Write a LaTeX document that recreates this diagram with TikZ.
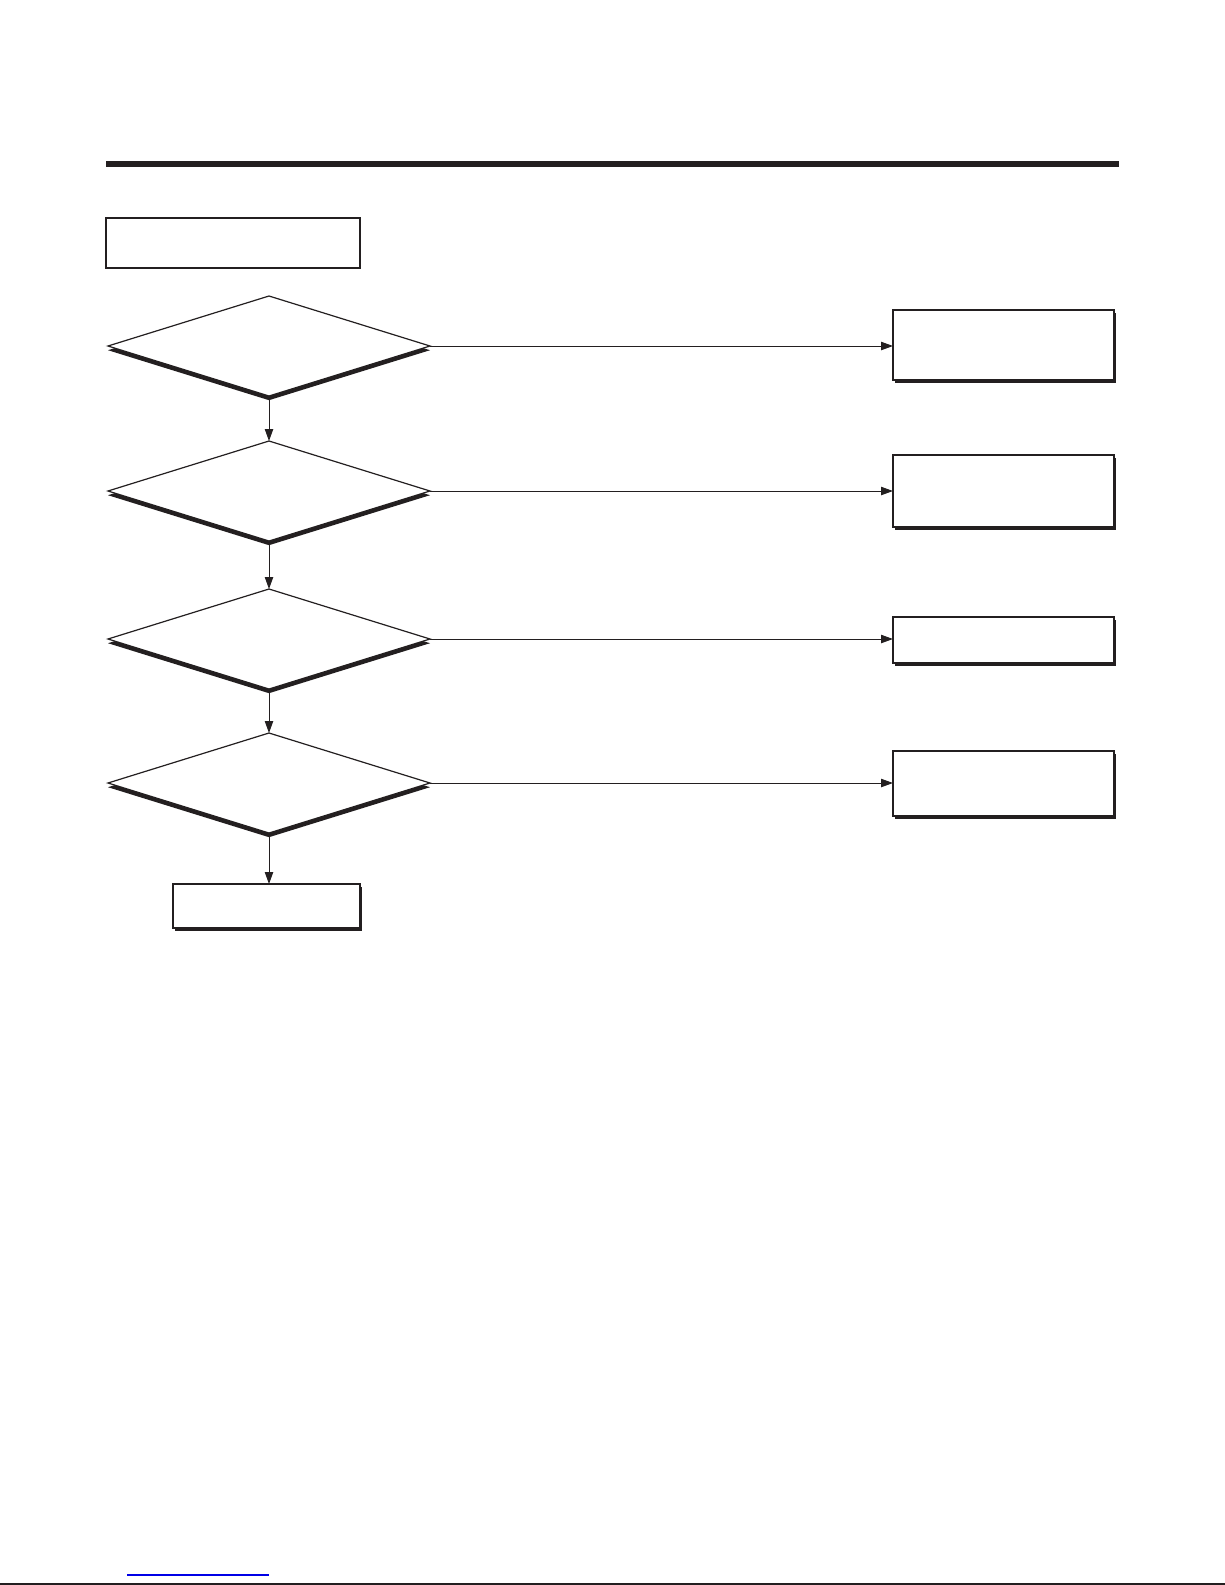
\documentclass[tikz,border=0pt]{standalone}
\usetikzlibrary{shapes.geometric,arrows.meta,shadows}
\definecolor{ink}{RGB}{35,31,32}
\definecolor{linkblue}{RGB}{0,0,230}
\tikzset{
  px/.style={x=0.5pt,y=-0.5pt},
  decision/.style={shape=diamond, draw=ink, fill=white, line width=0.6pt, inner sep=0pt, outer sep=0pt,
     minimum width=161pt, minimum height=50pt, shape aspect=3.22,
     drop shadow={shadow xshift=0pt, shadow yshift=-2.1pt, fill=ink, opacity=1}},
  process/.style={shape=rectangle, draw=ink, fill=white, line width=0.8pt, inner sep=0pt, outer sep=0pt,
     minimum width=110.5pt,
     drop shadow={shadow xshift=1.1pt, shadow yshift=-1.3pt, fill=ink, opacity=1}},
  plainbox/.style={shape=rectangle, draw=ink, fill=white, line width=0.8pt, inner sep=0pt, outer sep=0pt},
  flow/.style={draw=ink, line width=0.5pt, -{Triangle[length=6pt,width=4.2pt]}},
}
\begin{document}
\begin{tikzpicture}[px]
\useasboundingbox (0,0) rectangle (1225,1585);
\fill[white] (0,0) rectangle (1225,1585);
% header rule
\draw[ink, line width=3pt] (106,164) -- (1119,164);
% title box
\node[plainbox, minimum width=127pt, minimum height=25pt] (title) at (233,243) {};
% decisions
\node[decision] (d1) at (269,346) {};
\node[decision] (d2) at (269,491) {};
\node[decision] (d3) at (269,639) {};
\node[decision] (d4) at (269,783) {};
% result boxes
\node[process, minimum height=35pt] (b1) at (1003.5,345) {};
\node[process, minimum height=36pt] (b2) at (1003.5,491) {};
\node[process, minimum height=23pt] (b3) at (1003.5,640) {};
\node[process, minimum height=32.5pt] (b4) at (1003.5,783.5) {};
\node[process, minimum width=93.5pt, minimum height=22pt] (end) at (266.5,906) {};
% connectors
\draw[flow] (d1.east) -- (d1.east -| b1.west);
\draw[flow] (d2.east) -- (d2.east -| b2.west);
\draw[flow] (d3.east) -- (d3.east -| b3.west);
\draw[flow] (d4.east) -- (d4.east -| b4.west);
\draw[flow] (d1.south) ++(0,3) -- (d2.north);
\draw[flow] (d2.south) ++(0,3) -- (d3.north);
\draw[flow] (d3.south) ++(0,3) -- (d4.north);
\draw[flow] (d4.south) ++(0,3) -- (d4.south |- end.north);
% footer lines
\draw[linkblue, line width=0.8pt] (127,1575) -- (269,1575);
\draw[ink, line width=1pt] (0,1584) -- (1225,1584);
\end{tikzpicture}
\end{document}
